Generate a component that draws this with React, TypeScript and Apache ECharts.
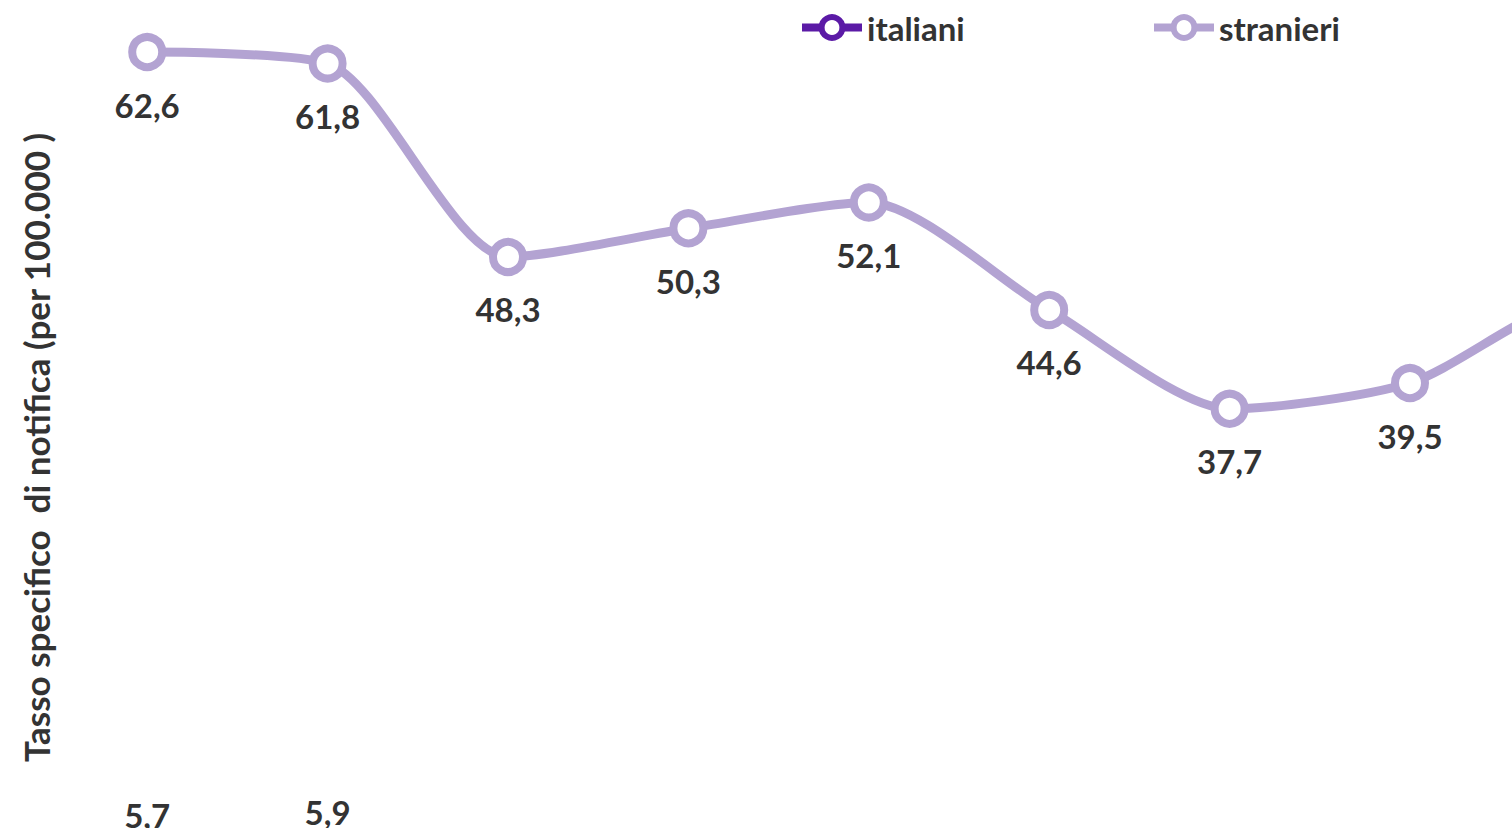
import React, { useEffect, useRef } from "react";
import * as echarts from "echarts";

const categories = ["1999", "2000", "2001", "2002", "2003", "2004", "2005", "2006", "2007", "2008"];
const italiani = [5.7, 5.9, 3.5, 3.4, 3.3, 3.2, 3.1, 3.0, 2.9, 2.8];
const stranieri = [62.6, 61.8, 48.3, 50.3, 52.1, 44.6, 37.7, 39.5, 45.5, 44.0];
const yTitle = "Tasso specifico  di notifica (per 100.000 )";

const FONT = "Lato";
const TEXT = "#333333";
const C_IT = "#5B1AA6";
const C_ST = "#B3A3D2";

// inner canvas is larger than the visible page: the reference is a crop
const SHIFT_Y = 100;
const INNER_W = 1900;
const INNER_H = 1150;

const fmt = (p: any) => Number(p.value).toFixed(1).replace(".", ",");

export default function App() {
  const ref = useRef<HTMLDivElement>(null);
  useEffect(() => {
    if (!ref.current) return;
    const chart = echarts.init(ref.current, undefined, { renderer: "svg" });
    const legendCommon = {
      orient: "horizontal" as const,
      itemWidth: 60,
      itemHeight: 26,
      padding: 0,
      textStyle: { fontFamily: FONT, fontSize: 33, fontWeight: "bold" as const, color: TEXT },
      selectedMode: false,
    };
    const labelCommon = {
      show: true,
      distance: 17,
      formatter: fmt,
      fontFamily: FONT,
      fontSize: 33,
      fontWeight: "bold" as const,
      color: TEXT,
    };
    chart.setOption({
      animation: false,
      backgroundColor: "#ffffff",
      legend: [
        {
          ...legendCommon,
          data: ["italiani"],
          left: 798,
          top: 11 + SHIFT_Y,
          itemStyle: { color: "#ffffff", borderColor: C_IT, borderWidth: 6 },
          lineStyle: { color: C_IT, width: 8 },
        },
        {
          ...legendCommon,
          data: ["stranieri"],
          left: 1150,
          top: 11 + SHIFT_Y,
          itemStyle: { color: "#ffffff", borderColor: C_ST, borderWidth: 6 },
          lineStyle: { color: C_ST, width: 8 },
        },
      ],
      grid: { left: 57, width: 1804, top: SHIFT_Y - 54, height: 1003 },
      xAxis: {
        type: "category",
        data: categories,
        boundaryGap: true,
        axisLine: { show: false },
        axisTick: { show: false },
        axisLabel: { show: false },
      },
      yAxis: {
        type: "value",
        min: 0,
        max: 70,
        interval: 10,
        name: yTitle,
        nameLocation: "middle",
        nameGap: 4,
        nameTextStyle: { fontFamily: FONT, fontSize: 35, fontWeight: "bold", color: TEXT },
        axisLine: { show: false },
        axisTick: { show: false },
        axisLabel: { show: false },
        splitLine: { show: false },
      },
      series: [
        {
          name: "italiani",
          type: "line",
          data: italiani,
          smooth: 0.25,
          symbol: "circle",
          symbolSize: 30,
          lineStyle: { color: C_IT, width: 9 },
          itemStyle: { color: "#ffffff", borderColor: C_IT, borderWidth: 8 },
          label: { ...labelCommon, position: "top" },
        },
        {
          name: "stranieri",
          type: "line",
          data: stranieri,
          smooth: 0.25,
          symbol: "circle",
          symbolSize: 30,
          lineStyle: { color: C_ST, width: 9 },
          itemStyle: { color: "#ffffff", borderColor: C_ST, borderWidth: 8 },
          label: { ...labelCommon, position: "bottom" },
        },
      ],
    });
    return () => chart.dispose();
  }, []);
  return (
    <div
      style={{
        position: "fixed",
        left: 0,
        top: 0,
        width: 1512,
        height: 828,
        overflow: "hidden",
        background: "#ffffff",
      }}
    >
      <div
        ref={ref}
        style={{ position: "absolute", left: 0, top: -SHIFT_Y, width: INNER_W, height: INNER_H }}
      />
    </div>
  );
}
